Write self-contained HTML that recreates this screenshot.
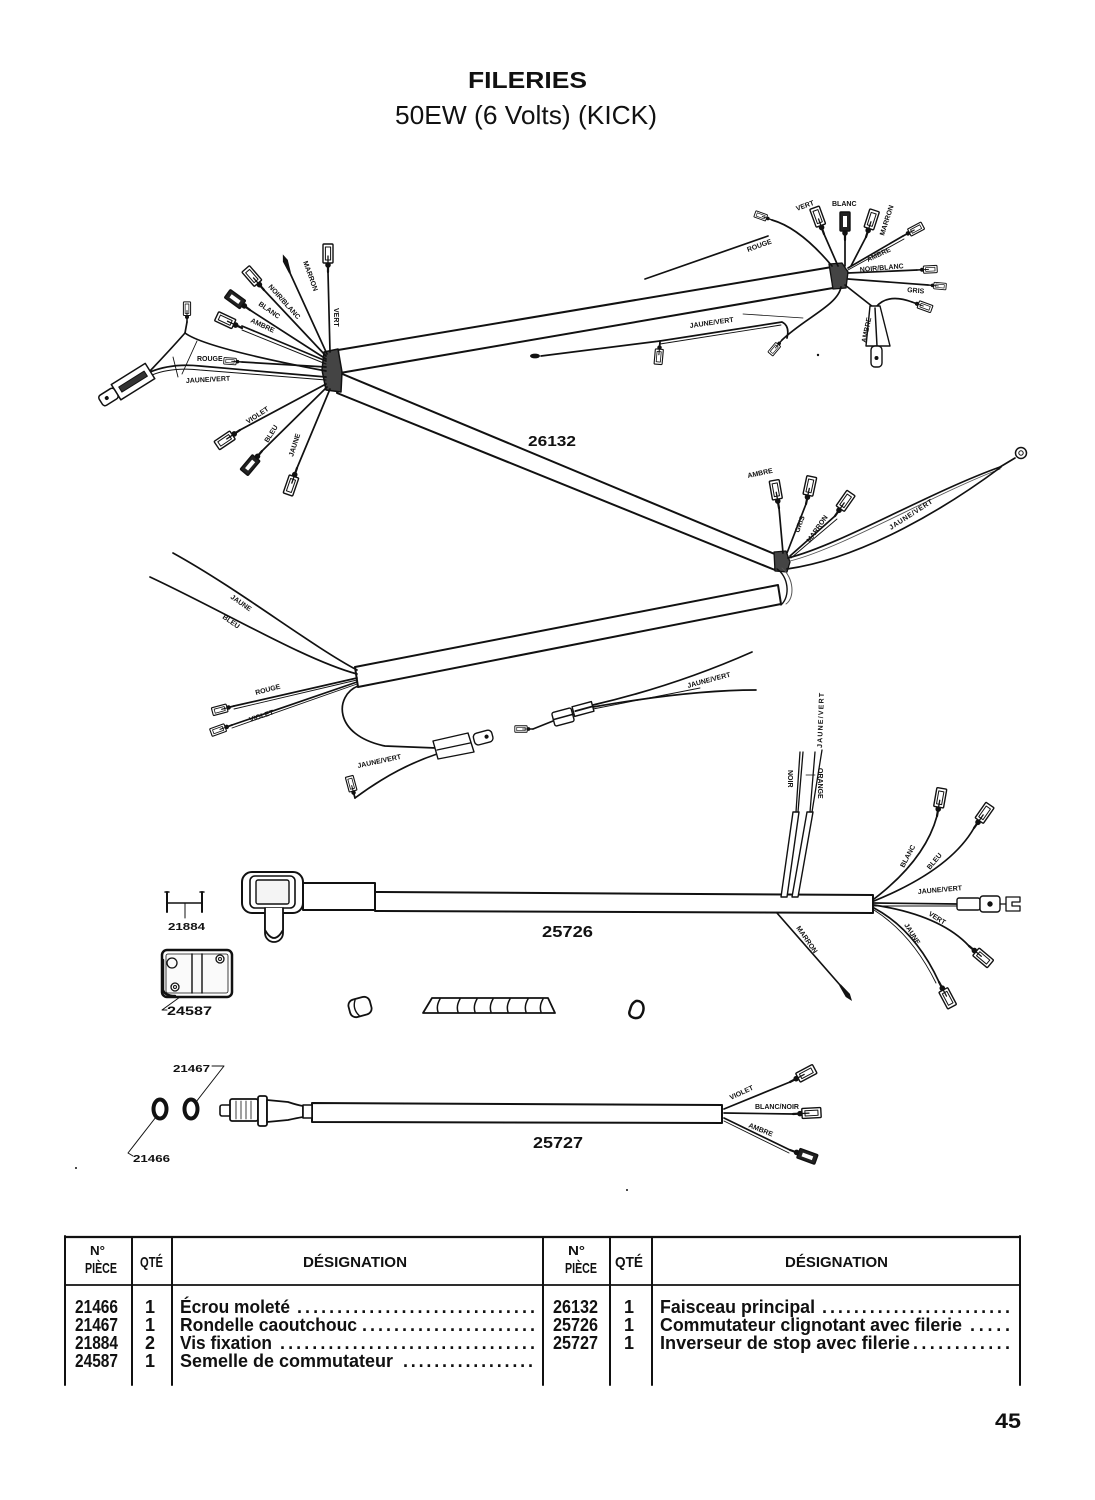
<!DOCTYPE html>
<html><head><meta charset="utf-8"><style>
html,body{margin:0;padding:0;background:#fff;}
svg{display:block;}
.wl{font-family:"Liberation Sans",sans-serif;font-weight:bold;font-size:7px;fill:#111;}
.lb{font-family:"Liberation Sans",sans-serif;font-weight:bold;fill:#111;}
.tb{font-family:"Liberation Sans",sans-serif;font-weight:bold;fill:#111;font-size:18px;}
.th{font-family:"Liberation Sans",sans-serif;font-weight:bold;fill:#111;}
</style></head><body>
<svg xmlns="http://www.w3.org/2000/svg" width="1095" height="1500" viewBox="0 0 1095 1500">
<defs>
<g id="fc" stroke="#111" fill="none">
 <line x1="0" y1="0" x2="8" y2="0" stroke-width="2.2"/>
 <circle cx="7" cy="0" r="2.3" fill="#111"/>
 <rect x="9" y="-5" width="19" height="10" rx="1" fill="#fff" stroke-width="1.4"/>
 <rect x="12" y="-2.6" width="13" height="5.2" stroke-width="1"/>
 <line x1="9" y1="0" x2="16" y2="0" stroke-width="1.3"/>
</g>
<g id="fcd" stroke="#111" fill="none">
 <line x1="0" y1="0" x2="8" y2="0" stroke-width="2.2"/>
 <circle cx="7" cy="0" r="2.3" fill="#111"/>
 <rect x="9" y="-5" width="19" height="10" rx="1" fill="#222" stroke-width="1.4"/>
 <rect x="13" y="-2" width="11" height="4" fill="#fff" stroke="none"/>
</g>
<g id="bul" stroke="none" fill="#111">
 <path d="M0,-1 L13,-2.6 L20,0 L13,2.6 L0,1 Z"/>
</g>
</defs>

<!-- Title -->
<text class="th" x="468" y="88" font-size="23" textLength="119" lengthAdjust="spacingAndGlyphs">FILERIES</text>
<text x="395" y="124" font-family="Liberation Sans, sans-serif" font-size="26" fill="#111" textLength="262" lengthAdjust="spacingAndGlyphs">50EW (6 Volts) (KICK)</text>

<g stroke="#111" fill="none" stroke-linecap="round" stroke-linejoin="round">

<!-- ===== HARNESS 26132 ===== -->
<polygon points="338,350 832,267 833,288 340,373" fill="#fff" stroke-width="2"/>
<polygon points="340,373 777,555 775,570 337,393" fill="#fff" stroke-width="2"/>
<polygon points="355,667 778,585 781,604 358,687" fill="#fff" stroke-width="2"/>

<!-- J1 blob -->
<path d="M324,352 L338,349 L342,372 L341,392 L326,390 L322,370 Z" fill="#444" stroke-width="1.5"/>
<!-- J1 wires -->
<g stroke-width="1.7">
<path d="M328,272 L330,352"/>
<path d="M290,273 L327,354"/>
<path d="M264,290 L326,356"/>
<path d="M250,310 L326,359"/>
<path d="M242,326 L326,361"/><path d="M242,330 L326,364" stroke-width="1"/>
<path d="M242,362 L326,367"/>
<path d="M187,322 L185,333"/>
<path d="M185,333 Q205,348 326,371"/>
<path d="M185,333 Q170,350 150,371"/>
<path d="M150,372 Q172,363 200,366 L326,377"/>
<path d="M152,375 Q172,367 200,370 L326,380" stroke-width="1"/>
<path d="M240,430 L326,384"/>
<path d="M262,451 L327,387"/>
<path d="M297,468 L330,389"/>
</g>
<path d="M173,357 L178,377 M197,341 L182,374" stroke-width="0.9"/>
<!-- J1 connectors -->
<use href="#fc" transform="translate(328,272) rotate(-90)"/>
<use href="#bul" transform="translate(290,273) rotate(-111)"/>
<use href="#fc" transform="translate(264,290) rotate(-131)"/>
<use href="#fcd" transform="translate(250,310) rotate(-144)"/>
<use href="#fc" transform="translate(242,328) rotate(-155)"/>
<use href="#fc" transform="translate(242,362) rotate(-176) scale(0.65)"/>
<use href="#fc" transform="translate(187,322) rotate(-90) scale(0.72)"/>
<use href="#fc" transform="translate(240,430) rotate(146)"/>
<use href="#fcd" transform="translate(262,451) rotate(130)"/>
<use href="#fc" transform="translate(297,468) rotate(109)"/>
<!-- big connector + key -->
<g transform="translate(150,371) rotate(148)">
 <rect x="0" y="-9" width="40" height="18" fill="#fff" stroke-width="1.5"/>
 <rect x="5" y="-3" width="30" height="6" fill="#333" stroke-width="1"/>
 <rect x="40" y="-6" width="18" height="12" rx="3" fill="#fff" stroke-width="1.5"/>
 <circle cx="51" cy="0" r="1.5" fill="#111"/>
</g>

<!-- J3 blob -->
<path d="M829,264 L842,263 L848,272 L846,288 L833,289 Z" fill="#444" stroke-width="1.3"/>
<g stroke-width="1.7">
<path d="M772,220 Q800,228 832,266"/>
<path d="M824,234 L838,266"/>
<path d="M845,240 L845,266"/>
<path d="M866,237 L851,266"/>
<path d="M903,236 L848,268"/><path d="M904,239 L848,270" stroke-width="0.9"/>
<path d="M917,270 L848,273"/>
<path d="M928,285 L848,279"/>
<path d="M845,285 L873,307"/>
<path d="M876,307 Q888,293 912,302"/>
<path d="M841,287 C838,305 805,318 782,340"/>
<path d="M645,279 L768,236"/>
<path d="M541,356 L660,341"/>
<path d="M660,341 L782,322 Q790,326 787,338"/>
<path d="M660,344 L781,325" stroke-width="0.9"/>
</g>
<path d="M743,314 L803,318" stroke-width="0.8"/>
<ellipse cx="535" cy="356" rx="5" ry="2.4" fill="#111" stroke="none"/>
<use href="#fc" transform="translate(772,220) rotate(-160) scale(0.65)"/>
<use href="#fc" transform="translate(824,234) rotate(-110)"/>
<use href="#fcd" transform="translate(845,240) rotate(-90)"/>
<use href="#fc" transform="translate(866,237) rotate(-72)"/>
<use href="#fc" transform="translate(903,236) rotate(-28) scale(0.8)"/>
<use href="#fc" transform="translate(917,270) rotate(-3) scale(0.72)"/>
<use href="#fc" transform="translate(928,285) rotate(5) scale(0.65)"/>
<use href="#fc" transform="translate(912,302) rotate(20) scale(0.75)"/>
<use href="#fc" transform="translate(782,340) rotate(130) scale(0.65)"/>
<use href="#fc" transform="translate(660,342) rotate(95) scale(0.8)"/>
<!-- ambre cover + key -->
<polygon points="870,306 880,306 890,346 866,346" fill="#fff" stroke-width="1.4"/>
<line x1="875" y1="308" x2="877" y2="346" stroke-width="1.5"/>
<rect x="871" y="346" width="11" height="21" rx="4" fill="#fff" stroke-width="1.4"/>
<circle cx="876.5" cy="358" r="1.5" fill="#111"/>
<circle cx="818" cy="355" r="1.2" fill="#111" stroke="none"/>

<!-- J2 -->
<path d="M774,552 L786,551 L790,562 L787,572 L775,571 Z" fill="#444" stroke-width="1.3"/>
<path d="M777,569 C788,576 791,596 781,605" stroke-width="1.4"/>
<path d="M782,568 C794,578 795,598 786,604" stroke-width="1" stroke="#555"/>
<g stroke-width="1.7">
<path d="M779,508 L783,553"/>
<path d="M806,504 L787,553"/>
<path d="M835,516 L790,556"/><path d="M837,519 L791,558" stroke-width="0.9"/>
<path d="M788,558 C840,545 930,492 1000,467"/>
<path d="M790,561 C842,548 932,495 1000,469" stroke-width="0.9" stroke="#555"/>
<path d="M787,569 C865,558 950,505 1001,467"/>
<path d="M1000,467 L1015,458"/>
</g>
<circle cx="1021" cy="453" r="5.5" fill="#fff" stroke-width="1.5"/>
<circle cx="1021" cy="453" r="2.2" stroke-width="1"/>
<use href="#fc" transform="translate(779,508) rotate(-100)"/>
<use href="#fc" transform="translate(806,504) rotate(-78)"/>
<use href="#fc" transform="translate(835,516) rotate(-55)"/>

<!-- lower bar left end -->
<g stroke-width="1.7">
<path d="M357,670 C310,645 240,590 173,553"/>
<path d="M357,674 C305,660 225,612 150,577"/>
<path d="M234,706 L357,678"/><path d="M234,709 L357,680" stroke-width="0.9"/>
<path d="M232,725 L357,682"/><path d="M232,728 L357,684" stroke-width="0.9"/>
<path d="M358,686 C335,695 332,735 385,746 L436,748"/>
<path d="M437,754 Q395,768 355,798"/>
<path d="M533,729 L553,721"/>
<path d="M593,705 Q675,686 752,652"/>
<path d="M593,707 Q690,690 756,690"/>
<path d="M593,709 Q660,696 700,688" stroke-width="0.9"/>
</g>
<use href="#fc" transform="translate(234,706) rotate(165) scale(0.8)"/>
<use href="#fc" transform="translate(232,725) rotate(160) scale(0.8)"/>
<use href="#fc" transform="translate(355,798) rotate(-105) scale(0.8)"/>
<use href="#fc" transform="translate(533,729) rotate(180) scale(0.65)"/>
<polygon points="433,741 468,733 474,752 438,759" fill="#fff" stroke-width="1.4"/>
<line x1="437" y1="750" x2="470" y2="743" stroke-width="1.4"/>
<g transform="translate(474,740) rotate(-15)"><rect x="0" y="-6" width="19" height="12" rx="4" fill="#fff" stroke-width="1.4"/><circle cx="13" cy="0" r="1.6" fill="#111"/></g>
<g transform="translate(563,717) rotate(-15)"><rect x="-10" y="-7" width="20" height="14" rx="2" fill="#fff" stroke-width="1.4"/><line x1="-10" y1="0" x2="10" y2="0" stroke-width="1.5"/></g>
<g transform="translate(583,709) rotate(-15)"><rect x="-10" y="-5" width="20" height="10" fill="#fff" stroke-width="1.4"/><line x1="-8" y1="0" x2="10" y2="0" stroke-width="1.8"/></g>

<!-- ===== 25726 ===== -->
<polygon points="375,892 873,895 873,913 375,911" fill="#fff" stroke-width="2"/>
<rect x="303" y="883" width="72" height="27" fill="#fff" stroke-width="2"/>
<rect x="265" y="900" width="18" height="42" rx="9" fill="#fff" stroke-width="1.8"/>
<rect x="242" y="872" width="61" height="41" rx="10" fill="#fff" stroke-width="2"/>
<rect x="250" y="876" width="45" height="32" rx="5" fill="#fff" stroke-width="1.6"/>
<rect x="256" y="880" width="33" height="24" rx="2" fill="#f4f4f4" stroke-width="1.4"/>
<path d="M265,908 L265,930 Q274,946 283,930 L283,908" fill="#fff" stroke-width="1.8"/>
<!-- noir / orange sleeves -->
<polygon points="793,812 799,812 787,897 781,897" fill="#fff" stroke-width="1.4"/>
<polygon points="807,812 813,812 798,897 792,897" fill="#fff" stroke-width="1.4"/>
<g stroke-width="1.3">
<path d="M796,812 L800,752"/><path d="M798,812 L803,752"/>
<path d="M810,812 L815,752"/><path d="M812,812 L822,750"/>
<path d="M806,775 L815,775" stroke-width="0.8"/>
</g>
<!-- marron -->
<path d="M777,913 L840,985" stroke-width="1.7"/>
<use href="#bul" transform="translate(840,985) rotate(53)"/>
<!-- fan -->
<g stroke-width="1.7">
<path d="M874,899 Q925,860 937,816"/>
<path d="M874,901 Q950,870 974,828"/>
<path d="M874,903 L957,904"/><path d="M874,906 L957,906" stroke-width="0.9"/>
<path d="M874,905 Q940,915 969,946"/>
<path d="M874,908 Q915,930 939,982"/><path d="M874,910 Q912,934 936,983" stroke-width="0.9"/>
</g>
<use href="#fc" transform="translate(937,816) rotate(-80)"/>
<use href="#fc" transform="translate(974,828) rotate(-55)"/>
<use href="#fc" transform="translate(969,946) rotate(40)"/>
<use href="#fc" transform="translate(939,982) rotate(62)"/>
<rect x="957" y="898" width="23" height="12" rx="2" fill="#fff" stroke-width="1.4"/>
<rect x="980" y="896" width="20" height="16" rx="3" fill="#fff" stroke-width="1.4"/>
<circle cx="990" cy="904" r="2.2" fill="#111"/>
<path d="M1000,904 L1006,904 M1006,897 L1020,897 L1020,902 L1012,902 L1012,906 L1020,906 L1020,911 L1006,911 Z" fill="#fff" stroke-width="1.3"/>

<!-- 21884 -->
<g stroke-width="2">
<line x1="167" y1="892" x2="167" y2="912"/><line x1="202" y1="892" x2="202" y2="912"/>
<line x1="167" y1="903" x2="202" y2="903" stroke-width="1.5"/>
<line x1="185" y1="903" x2="185" y2="918" stroke-width="1"/>
<line x1="165" y1="892" x2="169" y2="892" stroke-width="1.5"/><line x1="200" y1="892" x2="204" y2="892" stroke-width="1.5"/>
</g>
<!-- 24587 -->
<rect x="162" y="950" width="70" height="47" rx="5" fill="#fff" stroke-width="2.5"/>
<rect x="166" y="954" width="62" height="39" rx="2" fill="#fafafa" stroke-width="0.8"/>
<line x1="192" y1="954" x2="192" y2="993" stroke-width="1.4"/>
<line x1="202" y1="954" x2="202" y2="993" stroke-width="1.4"/>
<circle cx="172" cy="963" r="5" stroke-width="1.3"/>
<circle cx="220" cy="959" r="4" stroke-width="1.3"/><circle cx="220" cy="959" r="1.5"/>
<circle cx="175" cy="987" r="4" stroke-width="1.3"/><circle cx="175" cy="987" r="1.5"/>
<path d="M163,960 L163,990 Q165,996 175,996" stroke-width="2.5"/>
<path d="M180,997 L162,1010 L167,1010" stroke-width="1"/>
<!-- clips -->
<g transform="translate(360,1007) rotate(-15)"><rect x="-11" y="-9" width="22" height="18" rx="6" fill="#fff" stroke-width="1.8"/><path d="M-3,-8 Q-8,0 -3,8" stroke-width="1.4"/></g>
<path d="M423,1013 L432,998 L548,998 L555,1013 Z" fill="#fff" stroke-width="1.8"/>
<path d="M440,999 Q436,1006 438,1012 M460,999 Q456,1006 458,1012 M477,999 Q473,1006 475,1012 M493,999 Q489,1006 491,1012 M510,999 Q506,1006 508,1012 M528,999 Q524,1006 526,1012 M543,999 Q539,1006 541,1012" stroke-width="1.5"/>
<path d="M636,1001 C644,1000 646,1010 640,1017 C634,1020 627,1016 630,1010 C631,1006 632,1003 636,1001 Z" fill="#fff" stroke-width="2.5"/>

<!-- ===== 25727 ===== -->
<polygon points="312,1103 722,1105 722,1123 312,1122" fill="#fff" stroke-width="2"/>
<rect x="220" y="1105" width="11" height="11" rx="2" fill="#fff" stroke-width="1.6"/>
<rect x="230" y="1099" width="28" height="22" rx="2" fill="#fff" stroke-width="1.8"/>
<path d="M236,1101 L236,1119 M241,1101 L241,1119 M246,1101 L246,1119 M251,1101 L251,1119" stroke-width="0.8"/>
<rect x="258" y="1096" width="9" height="30" rx="2" fill="#fff" stroke-width="1.8"/>
<path d="M267,1100 L288,1102 Q297,1105 303,1106 L303,1117 Q297,1118 288,1120 L267,1122 Z" fill="#fff" stroke-width="1.8"/>
<rect x="303" y="1105" width="9" height="13" fill="#fff" stroke-width="1.6"/>
<ellipse cx="160" cy="1109" rx="6.5" ry="9.5" stroke-width="4"/>
<ellipse cx="191" cy="1109" rx="6.5" ry="9.5" stroke-width="4"/>
<path d="M212,1066 L224,1066 L196,1102" stroke-width="1"/>
<path d="M156,1117 L128,1153 L133,1156" stroke-width="1"/>
<g stroke-width="1.7">
<path d="M724,1109 L790,1082"/>
<path d="M724,1113 L793,1114"/>
<path d="M724,1118 L790,1150"/><path d="M724,1121 L789,1153" stroke-width="0.9"/>
</g>
<use href="#fc" transform="translate(790,1082) rotate(-28)"/>
<use href="#fc" transform="translate(793,1114) rotate(-3)"/>
<use href="#fcd" transform="translate(790,1150) rotate(20)"/>
<circle cx="627" cy="1190" r="1" fill="#111" stroke="none"/>
<circle cx="76" cy="1168" r="1" fill="#111" stroke="none"/>

<!-- ===== TABLE ===== -->
<line x1="65" y1="1237" x2="1020" y2="1237" stroke-width="2.2"/>
<line x1="65" y1="1285" x2="1020" y2="1285" stroke-width="1.8"/>
<g stroke-width="2">
<line x1="65" y1="1236" x2="65" y2="1385"/>
<line x1="132" y1="1237" x2="132" y2="1385"/>
<line x1="172" y1="1237" x2="172" y2="1385"/>
<line x1="543" y1="1237" x2="543" y2="1385"/>
<line x1="610" y1="1237" x2="610" y2="1385"/>
<line x1="652" y1="1237" x2="652" y2="1385"/>
<line x1="1020" y1="1236" x2="1020" y2="1385"/>
</g>
</g>

<!-- wire labels -->
<g class="wl">
<text transform="translate(334,308) rotate(90)">VERT</text>
<text transform="translate(303,262) rotate(70)">MARRON</text>
<text transform="translate(268,287) rotate(48)">NOIR/BLANC</text>
<text transform="translate(258,305) rotate(35)">BLANC</text>
<text transform="translate(250,322) rotate(25)">AMBRE</text>
<text transform="translate(197,361) rotate(0)">ROUGE</text>
<text transform="translate(186,383) rotate(-3)">JAUNE/VERT</text>
<text transform="translate(248,424) rotate(-33)">VIOLET</text>
<text transform="translate(268,443) rotate(-58)">BLEU</text>
<text transform="translate(293,457) rotate(-72)">JAUNE</text>

<text transform="translate(748,252) rotate(-20)">ROUGE</text>
<text transform="translate(797,211) rotate(-20)">VERT</text>
<text transform="translate(832,206)">BLANC</text>
<text transform="translate(884,236) rotate(-72)">MARRON</text>
<text transform="translate(868,262) rotate(-25)">AMBRE</text>
<text transform="translate(860,272) rotate(-5)">NOIR/BLANC</text>
<text transform="translate(907,292) rotate(5)">GRIS</text>
<text transform="translate(866,343) rotate(-78)">AMBRE</text>
<text transform="translate(690,328) rotate(-8)">JAUNE/VERT</text>

<text transform="translate(748,478) rotate(-12)">AMBRE</text>
<text transform="translate(799,533) rotate(-70)">GRIS</text>
<text transform="translate(810,543) rotate(-55)">MARRON</text>
<text transform="translate(891,530) rotate(-33)" textLength="50">JAUNE/VERT</text>

<text transform="translate(230,598) rotate(35)">JAUNE</text>
<text transform="translate(222,618) rotate(35)">BLEU</text>
<text transform="translate(256,695) rotate(-15)">ROUGE</text>
<text transform="translate(250,722) rotate(-18)">VIOLET</text>
<text transform="translate(358,768) rotate(-12)">JAUNE/VERT</text>
<text transform="translate(688,688) rotate(-15)">JAUNE/VERT</text>

<text transform="translate(788,770) rotate(90)">NOIR</text>
<text transform="translate(822,748) rotate(-88)" textLength="55">JAUNE/VERT</text>
<text transform="translate(818,768) rotate(90)">ORANGE</text>
<text transform="translate(796,928) rotate(55)">MARRON</text>
<text transform="translate(904,868) rotate(-62)">BLANC</text>
<text transform="translate(930,870) rotate(-50)">BLEU</text>
<text transform="translate(918,894) rotate(-5)">JAUNE/VERT</text>
<text transform="translate(928,915) rotate(32)">VERT</text>
<text transform="translate(904,925) rotate(58)">JAUNE</text>

<text transform="translate(731,1100) rotate(-25)">VIOLET</text>
<text transform="translate(755,1109)">BLANC/NOIR</text>
<text transform="translate(748,1127) rotate(22)">AMBRE</text>
</g>

<!-- part numbers -->
<text class="lb" x="528" y="446" font-size="15" textLength="48" lengthAdjust="spacingAndGlyphs">26132</text>
<text class="lb" x="542" y="937" font-size="16" textLength="51" lengthAdjust="spacingAndGlyphs">25726</text>
<text class="lb" x="533" y="1148" font-size="16" textLength="50" lengthAdjust="spacingAndGlyphs">25727</text>
<text class="lb" x="168" y="930" font-size="10.5" textLength="37" lengthAdjust="spacingAndGlyphs">21884</text>
<text class="lb" x="167" y="1015" font-size="11.5" textLength="45" lengthAdjust="spacingAndGlyphs">24587</text>
<text class="lb" x="173" y="1072" font-size="10.5" textLength="37" lengthAdjust="spacingAndGlyphs">21467</text>
<text class="lb" x="133" y="1162" font-size="10.5" textLength="37" lengthAdjust="spacingAndGlyphs">21466</text>

<!-- table headers -->
<g class="th">
<text x="90" y="1255" font-size="13" textLength="15" lengthAdjust="spacingAndGlyphs">N°</text>
<text x="85" y="1273" font-size="15" textLength="32" lengthAdjust="spacingAndGlyphs">PIÈCE</text>
<text x="140" y="1267" font-size="15" textLength="23" lengthAdjust="spacingAndGlyphs">QTÉ</text>
<text x="303" y="1267" font-size="15" textLength="104" lengthAdjust="spacingAndGlyphs">DÉSIGNATION</text>
<text x="568" y="1255" font-size="13" textLength="17" lengthAdjust="spacingAndGlyphs">N°</text>
<text x="565" y="1273" font-size="15" textLength="32" lengthAdjust="spacingAndGlyphs">PIÈCE</text>
<text x="615" y="1267" font-size="15" textLength="28" lengthAdjust="spacingAndGlyphs">QTÉ</text>
<text x="785" y="1267" font-size="15" textLength="103" lengthAdjust="spacingAndGlyphs">DÉSIGNATION</text>
</g>
<!-- table body -->
<g class="tb">
<text x="75" y="1313" textLength="43" lengthAdjust="spacingAndGlyphs">21466</text>
<text x="75" y="1331" textLength="43" lengthAdjust="spacingAndGlyphs">21467</text>
<text x="75" y="1349" textLength="43" lengthAdjust="spacingAndGlyphs">21884</text>
<text x="75" y="1367" textLength="43" lengthAdjust="spacingAndGlyphs">24587</text>
<text x="150" y="1313" text-anchor="middle">1</text>
<text x="150" y="1331" text-anchor="middle">1</text>
<text x="150" y="1349" text-anchor="middle">2</text>
<text x="150" y="1367" text-anchor="middle">1</text>
<text x="180" y="1313" textLength="110" lengthAdjust="spacingAndGlyphs">Écrou moleté</text>
<text x="297" y="1313" textLength="238" lengthAdjust="spacing">..............................</text>
<text x="180" y="1331" textLength="177" lengthAdjust="spacingAndGlyphs">Rondelle caoutchouc</text>
<text x="362" y="1331" textLength="173" lengthAdjust="spacing">......................</text>
<text x="180" y="1349" textLength="92" lengthAdjust="spacingAndGlyphs">Vis fixation</text>
<text x="280" y="1349" textLength="255" lengthAdjust="spacing">................................</text>
<text x="180" y="1367" textLength="213" lengthAdjust="spacingAndGlyphs">Semelle de commutateur</text>
<text x="403" y="1367" textLength="130" lengthAdjust="spacing">.................</text>

<text x="553" y="1313" textLength="45" lengthAdjust="spacingAndGlyphs">26132</text>
<text x="553" y="1331" textLength="45" lengthAdjust="spacingAndGlyphs">25726</text>
<text x="553" y="1349" textLength="45" lengthAdjust="spacingAndGlyphs">25727</text>
<text x="629" y="1313" text-anchor="middle">1</text>
<text x="629" y="1331" text-anchor="middle">1</text>
<text x="629" y="1349" text-anchor="middle">1</text>
<text x="660" y="1313" textLength="155" lengthAdjust="spacingAndGlyphs">Faisceau principal</text>
<text x="822" y="1313" textLength="188" lengthAdjust="spacing">........................</text>
<text x="660" y="1331" textLength="302" lengthAdjust="spacingAndGlyphs">Commutateur clignotant avec filerie</text>
<text x="970" y="1331" textLength="40" lengthAdjust="spacing">.....</text>
<text x="660" y="1349" textLength="250" lengthAdjust="spacingAndGlyphs">Inverseur de stop avec filerie</text>
<text x="913" y="1349" textLength="97" lengthAdjust="spacing">............</text>
</g>

<text class="lb" x="995" y="1428" font-size="21" textLength="26" lengthAdjust="spacingAndGlyphs">45</text>
</svg>
</body></html>
